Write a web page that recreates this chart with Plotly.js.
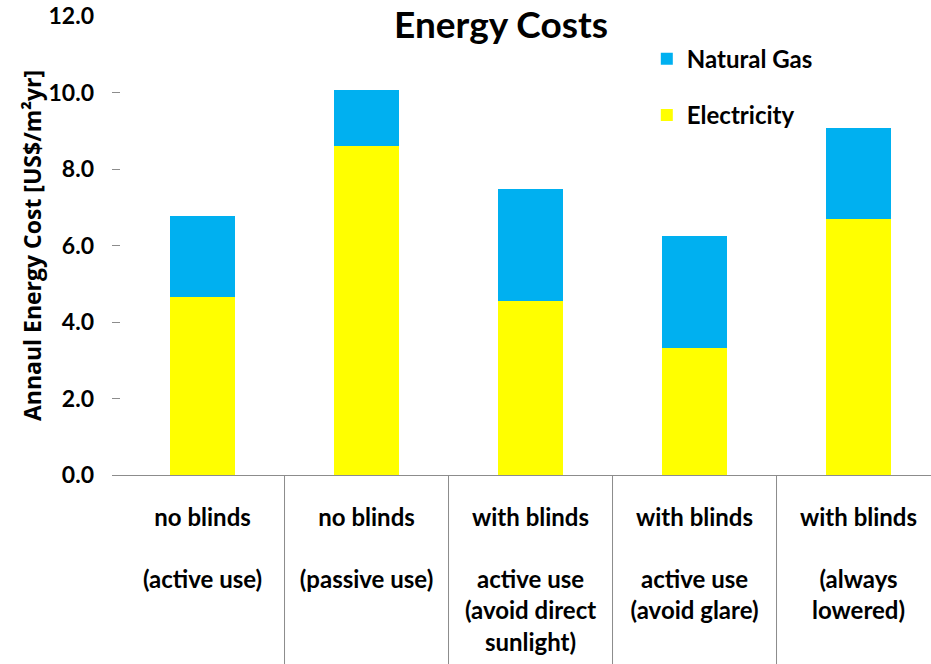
<!DOCTYPE html>
<html>
<head>
<meta charset="utf-8">
<script src="https://cdn.plot.ly/plotly-3.0.1.min.js"></script>
<style>
  html, body { margin: 0; padding: 0; background: #fff; }
  #chart { width: 931px; height: 664px; }
</style>
</head>
<body>
<div id="chart"></div>
<script>
// Scenario labels (category axis)
const scenarios = [
  'no blinds<br><br>(active use)',
  'no blinds<br><br>(passive use)',
  'with blinds<br><br>active use<br>(avoid direct<br>sunlight)',
  'with blinds<br><br>active use<br>(avoid glare)',
  'with blinds<br><br>(always<br>lowered)'
];

// Annual energy cost per floor area, US$/m²yr
const electricity = [4.65, 8.59, 4.56, 3.32, 6.68];
const naturalGas  = [2.13, 1.48, 2.92, 2.92, 2.38];

const yTicks = [0, 2, 4, 6, 8, 10, 12];

const FONT = 'Lato, "Open Sans", sans-serif';
const GREY = '#8c8c8c';

const traces = [
  {
    type: 'bar', name: 'Electricity', x: scenarios, y: electricity,
    legendgroup: 'e', legendrank: 2,
    marker: { color: '#FFFF00', line: { width: 0 } },
    width: 0.4, hoverinfo: 'y+name'
  },
  {
    type: 'bar', name: 'Natural Gas', x: scenarios, y: naturalGas,
    legendgroup: 'g', legendrank: 1,
    marker: { color: '#00B0F0', line: { width: 0 } },
    width: 0.4, hoverinfo: 'y+name'
  }
];

// vertical separators between categories, running below the axis
const separators = [];
for (let i = 1; i < scenarios.length; i++) {
  separators.push({
    type: 'line', xref: 'x', yref: 'paper',
    x0: i - 0.5, x1: i - 0.5, y0: 0, y1: -0.45,
    line: { color: GREY, width: 1 }
  });
}

const layout = {
  width: 931, height: 664,
  margin: { l: 112, r: 0, t: 16, b: 189 },
  paper_bgcolor: '#fff', plot_bgcolor: '#fff',
  font: { family: FONT, size: 24, color: '#000', weight: 'bold' },
  barmode: 'stack',
  showlegend: true,
  title: {
    text: 'Energy Costs',
    font: { family: FONT, size: 37, weight: 'bold', color: '#000' },
    x: 0.475, xanchor: 'center', xref: 'paper',
    y: 0.962, yanchor: 'middle', yref: 'container'
  },
  legend: {
    x: 0.653, xanchor: 'left', y: 0.955, yanchor: 'top', yref: 'paper',
    traceorder: 'grouped', tracegroupgap: 22,
    font: { family: FONT, size: 24, weight: 'bold' },
    bgcolor: 'rgba(0,0,0,0)', itemwidth: 30
  },
  xaxis: {
    type: 'category',
    range: [-0.552, 4.442],
    showline: true, linecolor: GREY, linewidth: 1,
    ticks: '', showgrid: false, zeroline: false,
    tickfont: { family: FONT, size: 24, weight: 'bold' },
    ticklabelstandoff: 21,
    fixedrange: true
  },
  yaxis: {
    range: [0, 12],
    tickvals: yTicks, tickformat: '.1f',
    ticks: 'inside', ticklen: 8, tickcolor: GREY, tickwidth: 1,
    showline: false, showgrid: false, zeroline: false,
    tickfont: { family: FONT, size: 23, weight: 'bold' },
    ticklabelstandoff: 17,
    title: {
      text: 'Annaul Energy Cost [US$/m²yr]',
      font: { family: '"Open Sans", Lato, sans-serif', size: 23, weight: 'bold' },
      standoff: 0
    },
    fixedrange: true
  },
  shapes: separators
};

Plotly.newPlot('chart', traces, layout, { displayModeBar: false, staticPlot: true });
</script>
</body>
</html>
